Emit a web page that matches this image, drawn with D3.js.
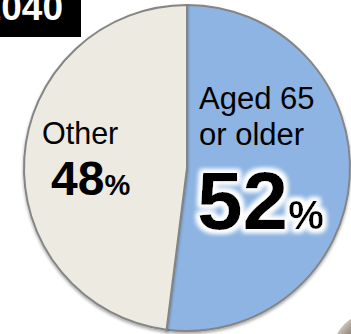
<!DOCTYPE html>
<html>
<head>
<meta charset="utf-8">
<script src="https://cdn.jsdelivr.net/npm/d3@7"></script>
<style>
  html, body { margin: 0; padding: 0; background: #ffffff; }
  svg { display: block; font-family: "Liberation Sans", Arial, sans-serif; }
</style>
</head>
<body>
<div id="chart"></div>
<script>
const categories = ["Aged 65 or older", "Other"];
const shares = [52, 48];
const sliceColors = ["#8db4e2", "#eceae1"];
const yearLabel = "2040";

const width = 351;
const height = 334;
const radius = 163;
const cx = 187;
const cy = 168;

const svg = d3.select("#chart")
  .append("svg")
  .attr("width", width)
  .attr("height", height);

const defs = svg.append("defs");

// white halo behind the big percentage
const glow = defs.append("filter")
  .attr("id", "glow")
  .attr("x", "-20%").attr("y", "-20%")
  .attr("width", "140%").attr("height", "140%");
glow.append("feMorphology")
  .attr("in", "SourceAlpha")
  .attr("operator", "dilate")
  .attr("radius", 3)
  .attr("result", "fat");
glow.append("feGaussianBlur")
  .attr("in", "fat")
  .attr("stdDeviation", 2.5)
  .attr("result", "blur");
glow.append("feFlood").attr("flood-color", "#ffffff");
glow.append("feComposite").attr("in2", "blur").attr("operator", "in").attr("result", "halo");
const merge = glow.append("feMerge");
merge.append("feMergeNode").attr("in", "halo");
merge.append("feMergeNode").attr("in", "halo");
merge.append("feMergeNode").attr("in", "SourceGraphic");

const shadow = defs.append("filter")
  .attr("id", "shadow")
  .attr("x", "-10%").attr("y", "-10%")
  .attr("width", "120%").attr("height", "125%");
shadow.append("feDropShadow")
  .attr("dx", 0).attr("dy", 2)
  .attr("stdDeviation", 1.5)
  .attr("flood-color", "#000")
  .attr("flood-opacity", 0.35);

const photo = defs.append("radialGradient").attr("id", "photo");
photo.append("stop").attr("offset", "0%").attr("stop-color", "#6e5f52");
photo.append("stop").attr("offset", "70%").attr("stop-color", "#8c8070");
photo.append("stop").attr("offset", "100%").attr("stop-color", "#c9c2b8");

// corner of a photo peeking in bottom-right
svg.append("circle")
  .attr("cx", 374)
  .attr("cy", 354)
  .attr("r", 42)
  .attr("fill", "url(#photo)");

const pie = d3.pie().sort(null).value(d => d);
const arc = d3.arc().innerRadius(0).outerRadius(radius);

const g = svg.append("g")
  .attr("transform", `translate(${cx},${cy})`);

g.selectAll("path")
  .data(pie(shares))
  .enter()
  .append("path")
  .attr("d", arc)
  .attr("fill", (d, i) => sliceColors[i])
  .attr("stroke", "#858585")
  .attr("stroke-width", 2)
  .attr("filter", "url(#shadow)");

// year tag (cut off by the left edge in the original)
svg.append("rect")
  .attr("x", 0)
  .attr("y", 0)
  .attr("width", 81)
  .attr("height", 37)
  .attr("fill", "#000000");

svg.append("text")
  .attr("x", 63)
  .attr("y", 20)
  .attr("text-anchor", "end")
  .attr("fill", "#ffffff")
  .attr("font-size", "37px")
  .attr("font-weight", "700")
  .text(yearLabel);

// Aged 65 or older
svg.append("text")
  .attr("x", 199)
  .attr("y", 109)
  .attr("font-size", "31px")
  .attr("fill", "#000")
  .text("Aged 65");

svg.append("text")
  .attr("x", 199)
  .attr("y", 145)
  .attr("font-size", "31px")
  .attr("fill", "#000")
  .text("or older");

const big = svg.append("text")
  .attr("x", 197)
  .attr("y", 229)
  .attr("font-weight", "700")
  .attr("fill", "#000")
  .attr("filter", "url(#glow)");
big.append("tspan").attr("font-size", "82px").text(shares[0]);
big.append("tspan").attr("font-size", "40px").text("%");

// Other
svg.append("text")
  .attr("x", 42)
  .attr("y", 144)
  .attr("font-size", "30.5px")
  .attr("fill", "#000")
  .text(categories[1]);

const small = svg.append("text")
  .attr("x", 51)
  .attr("y", 195)
  .attr("font-weight", "700")
  .attr("fill", "#000");
small.append("tspan").attr("font-size", "48px").text(shares[1]);
small.append("tspan").attr("font-size", "29px").text("%");
</script>
</body>
</html>
